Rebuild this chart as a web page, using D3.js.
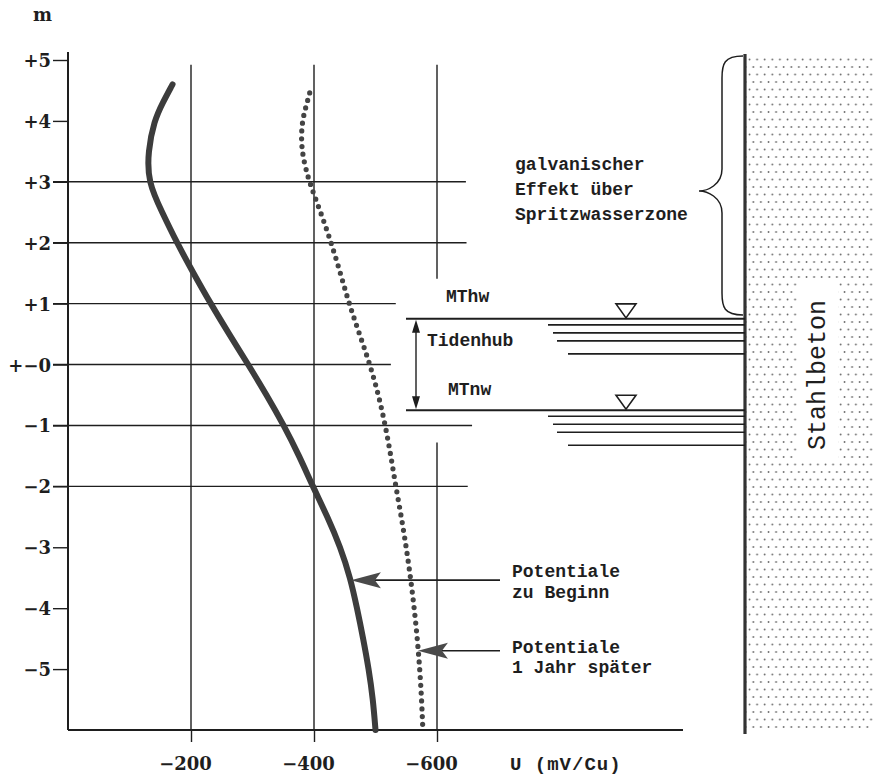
<!DOCTYPE html>
<html>
<head>
<meta charset="utf-8">
<script src="https://cdn.jsdelivr.net/npm/d3@7"></script>
<style>
  body { margin: 0; background: #fff; }
  text { fill: #1e1e1e; }
</style>
</head>
<body>
<svg width="873" height="780"></svg>
<script>
// depth in m, potential in -mV (plotted positive to the right)
const depthStart = [4.6, 4.3, 4.0, 3.5, 3.0, 2.5, 2.0, 1.5, 1.0, 0.5, 0, -0.5, -1, -1.5, -2, -2.5, -3, -3.5, -4, -4.5, -5, -5.5, -6];
const potStart = [170, 154, 140, 130, 130, 153, 177, 204, 232, 262, 293, 323, 351, 376, 398, 422, 443, 459, 470, 480, 489, 496, 500];

const depthLater = [4.46, 4.2, 4.0, 3.7, 3.4, 3.0, 2.5, 2.0, 1.5, 1.0, 0.5, 0, -0.5, -1, -1.5, -2, -2.5, -3, -3.5, -4, -4.5, -5, -5.5, -6];
const potLater = [393, 386, 381, 379, 382, 392, 411, 428, 443, 457, 474, 491, 505, 516, 525, 533, 542, 550, 557, 563, 568, 572, 575, 577];

const yTicks = [5, 4, 3, 2, 1, 0, -1, -2, -3, -4, -5];
const yTickLabels = ["+5", "+4", "+3", "+2", "+1", "+\u22120", "\u22121", "\u22122", "\u22123", "\u22124", "\u22125"];
const xTicks = [200, 400, 600];
const xTickLabels = ["\u2212200", "\u2212400", "\u2212600"];

// grid lines: level and where they stop (mV)
const hGridLevels = [3, 2, 1, 0, -1, -2];
const hGridEnds = [647, 648, 533, 525, 657, 650];

const tideHigh = 0.75, tideLow = -0.75;

const svg = d3.select("svg");
const ink = "#1e1e1e";
const mono = "'Liberation Mono', 'DejaVu Sans Mono', monospace";
const serif = "'DejaVu Serif', serif";

const x = d3.scaleLinear().domain([0, 1000]).range([68, 683]);
const y = d3.scaleLinear().domain([-6, 5]).range([730, 60]);

// stipple for the concrete
const defs = svg.append("defs");
const pat = defs.append("pattern")
    .attr("id", "stipple")
    .attr("patternUnits", "userSpaceOnUse")
    .attr("width", 7.6).attr("height", 15)
    .attr("x", 748).attr("y", 58);
pat.append("circle").attr("cx", 1.5).attr("cy", 1.5).attr("r", 0.9).attr("fill", "#666");
pat.append("circle").attr("cx", 5.3).attr("cy", 9).attr("r", 0.9).attr("fill", "#666");

const wallX = 745;
svg.append("rect")
    .attr("x", wallX + 1).attr("y", 56)
    .attr("width", 873 - wallX).attr("height", 673)
    .attr("fill", "url(#stipple)");

svg.append("rect")
    .attr("x", 797).attr("y", 283)
    .attr("width", 41).attr("height", 180)
    .attr("fill", "#fff");

svg.append("text")
    .attr("transform", `translate(825, 375) rotate(-90)`)
    .attr("text-anchor", "middle")
    .style("font-family", mono)
    .style("font-size", "25px")
    .text("Stahlbeton");

// grid
const grid = svg.append("g").attr("stroke", ink).attr("stroke-width", 1.4);

grid.selectAll("line.h").data(hGridLevels)
  .enter().append("line")
    .attr("class", "h")
    .attr("x1", 53)
    .attr("x2", (d, i) => x(hGridEnds[i]))
    .attr("y1", d => y(d))
    .attr("y2", d => y(d));

const vGrid = [
    { u: 200, top: 4.92, bottom: -6 },
    { u: 400, top: 4.92, bottom: -6 },
    { u: 600, top: 4.92, bottom: 1.41 },
    { u: 600, top: -1.28, bottom: -6 }
];
grid.selectAll("line.v").data(vGrid)
  .enter().append("line")
    .attr("class", "v")
    .attr("x1", d => x(d.u)).attr("x2", d => x(d.u))
    .attr("y1", d => y(d.top)).attr("y2", d => y(d.bottom));

// axes
const yAxis = svg.append("g")
    .attr("transform", `translate(${x(0)},0)`)
    .call(d3.axisLeft(y)
        .tickValues(yTicks)
        .tickFormat((d, i) => yTickLabels[i])
        .tickSize(15)
        .tickPadding(2)
        .tickSizeOuter(0));
yAxis.select(".domain").remove();
yAxis.selectAll("line").attr("stroke", ink).attr("stroke-width", 1.4);
yAxis.selectAll("text")
    .attr("dy", "0.36em")
    .style("font-family", serif)
    .style("font-weight", "bold")
    .style("font-size", "18px")
    .attr("fill", ink);

svg.append("line")
    .attr("x1", x(0)).attr("x2", x(0))
    .attr("y1", 52).attr("y2", y(-6))
    .attr("stroke", ink).attr("stroke-width", 2);

const xAxis = svg.append("g")
    .attr("transform", `translate(0,${y(-6)})`)
    .call(d3.axisBottom(x)
        .tickValues(xTicks)
        .tickFormat((d, i) => xTickLabels[i])
        .tickSize(12)
        .tickSizeOuter(0));
xAxis.select(".domain").remove();
xAxis.selectAll("line").attr("stroke", ink).attr("stroke-width", 1.4);
xAxis.selectAll("text")
    .attr("y", 40).attr("dy", 0).attr("dx", -6)
    .style("font-family", serif)
    .style("font-weight", "bold")
    .style("font-size", "18px")
    .attr("fill", ink);

svg.append("line")
    .attr("x1", x(0)).attr("x2", 683)
    .attr("y1", y(-6)).attr("y2", y(-6))
    .attr("stroke", ink).attr("stroke-width", 2.2);

svg.append("text")
    .attr("x", 33).attr("y", 21)
    .style("font-family", serif)
    .style("font-weight", "bold")
    .style("font-size", "18px")
    .text("m");

svg.append("text")
    .attr("x", 510).attr("y", 770)
    .style("font-family", mono)
    .style("font-weight", "bold")
    .style("font-size", "19px")
    .style("letter-spacing", "1px")
    .text("U (mV/Cu)");

// wall
svg.append("line")
    .attr("x1", wallX).attr("x2", wallX)
    .attr("y1", 54).attr("y2", 734)
    .attr("stroke", "#333").attr("stroke-width", 3.2);

// water levels
const water = svg.append("g").attr("stroke", ink);
[tideHigh, tideLow].forEach(lvl => {
    water.append("line")
        .attr("x1", 406).attr("x2", wallX)
        .attr("y1", y(lvl)).attr("y2", y(lvl))
        .attr("stroke-width", 2);
    const waves = [[6, 548], [14, 553], [22, 557], [35, 568]];
    waves.forEach(([dy, x0]) => {
        water.append("line")
            .attr("x1", x0).attr("x2", wallX)
            .attr("y1", y(lvl) + dy).attr("y2", y(lvl) + dy)
            .attr("stroke-width", 1.6);
    });
    const ty = y(lvl);
    water.append("path")
        .attr("d", `M616,${ty - 15} L636,${ty - 15} L626,${ty - 1} Z`)
        .attr("fill", "#fff")
        .attr("stroke-width", 1.6);
});

// Tidenhub arrow
const th = svg.append("g");
th.append("line")
    .attr("x1", 416).attr("x2", 416)
    .attr("y1", y(tideHigh) + 6).attr("y2", y(tideLow) - 6)
    .attr("stroke", ink).attr("stroke-width", 1.4);
th.append("path")
    .attr("d", `M416,${y(tideHigh) + 1} L412,${y(tideHigh) + 14} L420,${y(tideHigh) + 14} Z`)
    .attr("fill", ink);
th.append("path")
    .attr("d", `M416,${y(tideLow) - 1} L412,${y(tideLow) - 14} L420,${y(tideLow) - 14} Z`)
    .attr("fill", ink);

const label = (txt, lx, ly) => svg.append("text")
    .attr("x", lx).attr("y", ly)
    .style("font-family", mono)
    .style("font-weight", "bold")
    .style("font-size", "18px")
    .text(txt);

label("MThw", 446, 302);
label("Tidenhub", 427, 346);
label("MTnw", 448, 395);
label("galvanischer", 515, 170);
label("Effekt \u00fcber", 515, 195);
label("Spritzwasserzone", 515, 220);
label("Potentiale", 512, 577);
label("zu Beginn", 512, 598);
label("Potentiale", 512, 653);
label("1 Jahr sp\u00e4ter", 512, 673);

// brace
const bTop = 56, bBot = 315, bMid = 191, bx = 743, bIn = 722, bTip = 699;
const bp = d3.path();
bp.moveTo(bx, bTop);
bp.bezierCurveTo(bIn + 2, bTop, bIn, bTop + 8, bIn, bTop + 22);
bp.lineTo(bIn, bMid - 22);
bp.bezierCurveTo(bIn, bMid - 6, bTip + 8, bMid, bTip, bMid);
bp.bezierCurveTo(bTip + 8, bMid, bIn, bMid + 6, bIn, bMid + 22);
bp.lineTo(bIn, bBot - 22);
bp.bezierCurveTo(bIn, bBot - 8, bIn + 2, bBot, bx, bBot);
svg.append("path")
    .attr("d", bp.toString())
    .attr("fill", "none")
    .attr("stroke", ink)
    .attr("stroke-width", 1.5);

// curves
const lineStart = d3.line()
    .x((d, i) => x(potStart[i]))
    .y(d => y(d))
    .curve(d3.curveBasis);
const lineLater = d3.line()
    .x((d, i) => x(potLater[i]))
    .y(d => y(d))
    .curve(d3.curveBasis);

svg.append("path")
    .datum(depthStart)
    .attr("d", lineStart)
    .attr("fill", "none")
    .attr("stroke", "#3c3c3c")
    .attr("stroke-width", 6)
    .attr("stroke-linecap", "round");

svg.append("path")
    .datum(depthLater)
    .attr("d", lineLater)
    .attr("fill", "none")
    .attr("stroke", "#444")
    .attr("stroke-width", 5.2)
    .attr("stroke-linecap", "round")
    .attr("stroke-dasharray", "0 7.8");

// pointer arrows
const pointers = [
    { m: -3.54, u: 460 },
    { m: -4.7, u: 569 }
];
pointers.forEach(p => {
    const px = x(p.u), py = y(p.m);
    svg.append("line")
        .attr("x1", px + 20).attr("x2", 500)
        .attr("y1", py).attr("y2", py)
        .attr("stroke", ink).attr("stroke-width", 1.6);
    svg.append("path")
        .attr("d", `M${px},${py} L${px + 30},${py - 8} L${px + 24},${py} L${px + 30},${py + 8} Z`)
        .attr("fill", "#4a4a4a");
});
</script>
</body>
</html>
